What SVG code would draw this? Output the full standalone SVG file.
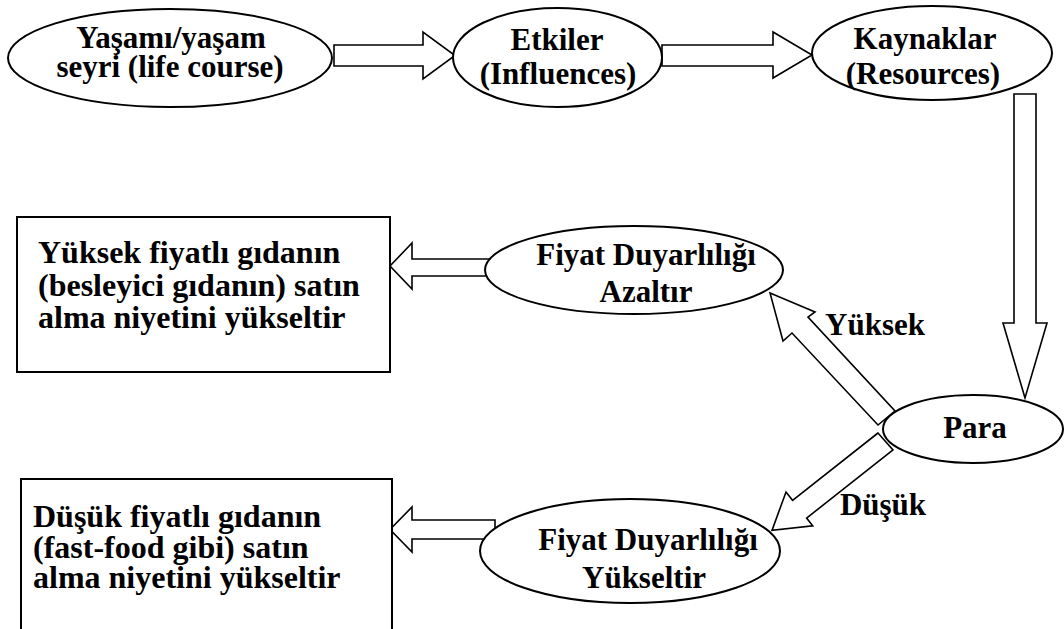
<svg xmlns="http://www.w3.org/2000/svg" width="1064" height="629" viewBox="0 0 1064 629">
  <style>
    .node { fill: #fff; stroke: #000; stroke-width: 2; }
    .arrow { fill: #fff; stroke: #000; stroke-width: 1.6; stroke-linejoin: miter; }
    text { font-family: "Liberation Serif", "Times New Roman", serif; font-weight: bold; font-size: 31px; fill: #000; }
    .c { text-anchor: middle; }
    .box { font-size: 32px; }
  </style>
  <rect width="1064" height="629" fill="#fff"/>

  <!-- block arrows -->
  <g id="connectors">
    <polygon class="arrow" points="334,45 423,45 423,32 455,55.5 423,79 423,66 334,66"/>
    <polygon class="arrow" points="662,45 773,45 773,32 812,55 773,78 773,66 662,66"/>
    <polygon class="arrow" points="1014,94 1036,94 1036,323 1047,323 1025,398 1003,323 1014,323"/>
    <polygon class="arrow" points="770,293 815,312 808,317 895,411 878,425 792,333 783,341"/>
    <polygon class="arrow" points="878,433 792.6,500.3 786,492 772,530.4 812.7,525.8 806.6,518.1 893,450"/>
    <polygon class="arrow" points="490,259 412,259 412,243 390,266 412,289 412,276 490,276"/>
    <polygon class="arrow" points="495,520 412,520 412,507 390,529.5 412,552 412,539 495,539"/>
    <text x="875" y="335" class="c">Yüksek</text>
    <text x="883" y="515" class="c">Düşük</text>
  </g>

  <g id="node-yasam">
    <ellipse class="node" cx="170" cy="58" rx="162" ry="49"/>
    <text x="171" y="48" class="c">Yaşamı/yaşam</text>
    <text x="170" y="77" class="c">seyri (life course)</text>
  </g>

  <g id="node-etkiler">
    <ellipse class="node" cx="557.5" cy="57.5" rx="104.5" ry="49.5"/>
    <text x="557" y="50" class="c">Etkiler</text>
    <text x="558" y="84" class="c">(Influences)</text>
  </g>

  <g id="node-kaynaklar">
    <ellipse class="node" cx="932" cy="53" rx="120" ry="47"/>
    <text x="925" y="49" class="c">Kaynaklar</text>
    <text x="923" y="84" class="c">(Resources)</text>
  </g>

  <g id="node-para">
    <ellipse class="node" cx="973" cy="429" rx="90" ry="34"/>
    <text x="975" y="438" class="c">Para</text>
  </g>

  <g id="node-azaltir">
    <ellipse class="node" cx="634" cy="270" rx="149" ry="44"/>
    <text x="646" y="265" class="c">Fiyat Duyarlılığı</text>
    <text x="646" y="302" class="c">Azaltır</text>
  </g>

  <g id="node-yukseltir">
    <ellipse class="node" cx="630" cy="551" rx="150" ry="52"/>
    <text x="648" y="550" class="c">Fiyat Duyarlılığı</text>
    <text x="644" y="588" class="c">Yükseltir</text>
  </g>

  <g id="node-yuksek-fiyat">
    <rect class="node" x="17" y="217" width="373" height="155"/>
    <text x="38" y="263" class="box">Yüksek fiyatlı gıdanın</text>
    <text x="38" y="296" class="box">(besleyici gıdanın) satın</text>
    <text x="38" y="328" class="box">alma niyetini yükseltir</text>
  </g>

  <g id="node-dusuk-fiyat">
    <rect class="node" x="21" y="479" width="371" height="170"/>
    <text x="33" y="527" class="box">Düşük fiyatlı gıdanın</text>
    <text x="33" y="558" class="box">(fast-food gibi) satın</text>
    <text x="33" y="588" class="box">alma niyetini yükseltir</text>
  </g>
</svg>
